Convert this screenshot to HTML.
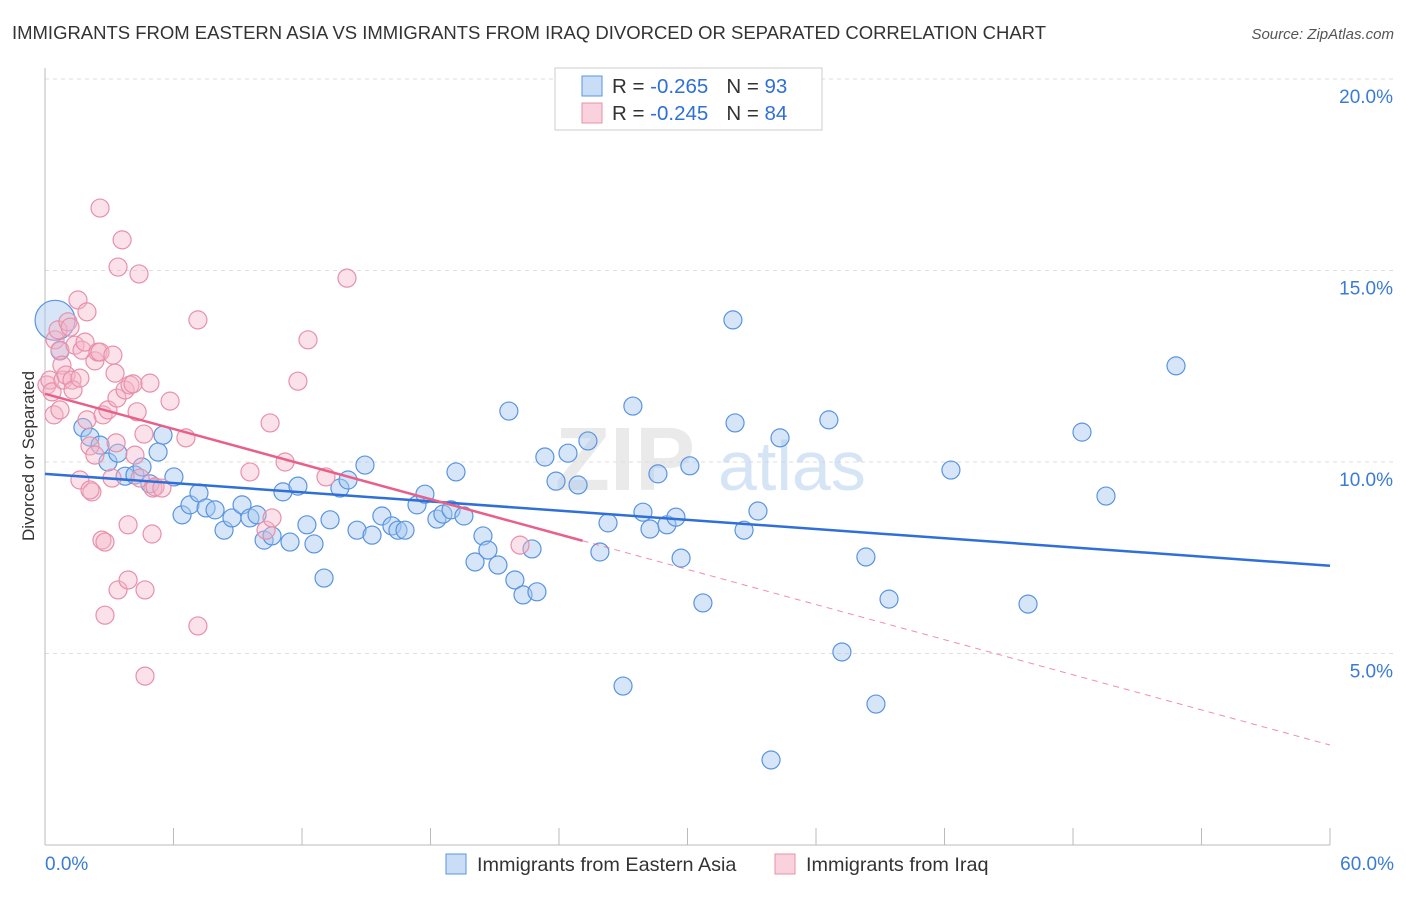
<!DOCTYPE html>
<html><head><meta charset="utf-8"><style>
body{margin:0;background:#fff;font-family:"Liberation Sans",sans-serif;}
svg text{font-family:"Liberation Sans",sans-serif;}
</style></head><body>
<svg id="chart" width="1406" height="892" xmlns="http://www.w3.org/2000/svg">
<text x="12" y="39" font-size="18.4" fill="#333" textLength="1034" lengthAdjust="spacingAndGlyphs">IMMIGRANTS FROM EASTERN ASIA VS IMMIGRANTS FROM IRAQ DIVORCED OR SEPARATED CORRELATION CHART</text>
<text x="1394" y="39" font-size="15" fill="#555" font-style="italic" text-anchor="end">Source: ZipAtlas.com</text>
<g id="grid"></g>
<g>
<text x="555" y="490" font-size="90" font-weight="bold" fill="#ddd" opacity="0.6">ZIP</text>
<text x="718" y="490" font-size="70" fill="#bcd4f0" opacity="0.6">atlas</text>
</g>
<line x1="45" y1="68" x2="45" y2="845" stroke="#bbb"/>
<line x1="45" y1="845" x2="1330" y2="845" stroke="#bbb"/>
<g id="ticks"></g>
<g id="points"></g>
<g id="lines"></g>
<text transform="translate(34,456) rotate(-90)" font-size="17" fill="#333" text-anchor="middle">Divorced or Separated</text>
<g>
<rect x="555" y="68" width="267" height="62" fill="#fff" stroke="#ccc"/>
<rect x="582" y="76" width="20" height="20" fill="rgba(165,200,240,0.6)" stroke="#5a94e0"/>
<rect x="582" y="103" width="20" height="20" fill="rgba(245,180,200,0.6)" stroke="#e890aa"/>
<text x="612" y="93" font-size="20.5" fill="#333">R = <tspan fill="#2f6fd8">-0.265</tspan><tspan dx="18">N = </tspan><tspan fill="#2f6fd8">93</tspan></text>
<text x="612" y="120" font-size="20.5" fill="#333">R = <tspan fill="#2f6fd8">-0.245</tspan><tspan dx="18">N = </tspan><tspan fill="#2f6fd8">84</tspan></text>
</g>
<g>
<rect x="446" y="854" width="20" height="20" fill="rgba(165,200,240,0.6)" stroke="#5a94e0"/>
<text x="477" y="871" font-size="19.8" fill="#333">Immigrants from Eastern Asia</text>
<rect x="775" y="854" width="20" height="20" fill="rgba(245,180,200,0.6)" stroke="#e890aa"/>
<text x="806" y="871" font-size="19.8" fill="#333">Immigrants from Iraq</text>
</g>
</svg>
<script>
const yTicks=[5,10,15,20];
const yTickLabels=["5.0%","10.0%","15.0%","20.0%"];
const xTicks=[0,6,12,18,24,30,36,42,48,54,60];
const xEndLabels=["0.0%","60.0%"];
const blueX=[0.47,0.7,1.77,2.1,2.57,2.94,3.4,3.74,4.2,4.53,4.9,5.28,5.51,6.02,6.4,6.77,7.19,7.52,7.94,8.36,8.73,9.2,9.57,9.9,10.23,10.6,11.11,11.44,11.81,12.23,12.56,13.03,13.31,13.77,14.15,14.57,14.94,15.27,15.73,16.2,16.48,16.81,17.37,17.74,18.3,18.58,18.96,19.19,19.56,20.08,20.45,20.68,21.15,21.66,21.94,22.32,22.74,22.97,23.34,23.86,24.42,24.89,25.35,25.91,26.29,26.99,27.45,27.92,28.25,28.62,29.04,29.46,29.7,30.11,30.72,32.12,32.22,32.64,33.29,33.9,34.32,36.6,37.21,38.33,38.8,39.41,42.3,45.9,48.42,49.54,52.81];
const blueY=[13.7,12.9,10.9,10.65,10.44,10.0,10.23,9.63,9.66,9.87,9.43,10.26,10.7,9.61,8.62,8.88,9.19,8.8,8.75,8.22,8.54,8.88,8.54,8.62,7.96,8.07,9.22,7.91,9.37,8.36,7.86,6.97,8.49,9.32,9.53,8.22,9.92,8.09,8.59,8.33,8.22,8.22,8.88,9.16,8.51,8.64,8.75,9.74,8.59,7.39,8.07,7.7,7.31,11.33,6.92,6.53,7.73,6.61,10.13,9.5,10.23,9.4,10.55,7.65,8.41,4.15,11.46,8.69,8.25,9.69,8.36,8.56,7.49,9.9,6.32,13.71,11.02,8.22,8.72,2.22,10.63,11.1,5.04,7.52,3.68,6.42,9.79,6.29,10.78,9.11,12.51];
const pinkX=[0.09,0.23,0.33,0.42,0.47,0.61,0.7,0.79,0.84,0.98,1.07,1.17,1.26,1.31,1.4,1.54,1.63,1.63,1.73,1.87,1.96,1.96,2.1,2.19,2.33,2.47,2.57,2.57,2.71,2.94,3.17,3.27,3.32,3.36,3.41,3.41,3.6,3.74,3.88,3.88,3.97,4.11,4.2,4.3,4.39,4.44,4.62,4.67,4.67,4.9,5.0,5.04,5.14,5.46,5.84,6.58,7.14,7.14,9.57,10.32,10.51,10.6,11.21,11.81,12.28,13.12,14.1,22.18,2.66,2.8,2.8,3.13,2.33,2.1,0.7];
const pinkY=[12.01,12.14,11.83,11.23,13.19,13.45,12.92,12.53,12.14,12.27,13.66,13.52,12.14,11.88,13.05,14.23,12.19,9.53,12.92,13.13,13.92,11.1,10.42,9.22,12.64,12.87,16.63,12.87,11.23,11.36,12.79,12.32,10.5,11.67,15.09,6.66,15.8,11.88,8.36,6.92,12.01,12.04,10.18,11.31,14.91,9.58,10.73,6.66,4.41,12.06,8.12,9.32,9.35,9.32,11.59,10.63,13.71,5.72,9.74,8.22,11.02,8.54,10.0,12.11,13.19,9.61,14.8,7.83,7.96,7.91,6.0,9.58,10.18,9.27,11.36];
const blueTrend=[9.69,7.29];
const pinkTrend=[11.78,2.61];
const pinkSolidEnd=25.1;
const sx=v=>45+v/60*1285;
const sy=v=>845-v*38.3;
const NS="http://www.w3.org/2000/svg";
function mk(tag,attrs,parent){const e=document.createElementNS(NS,tag);for(const k in attrs)e.setAttribute(k,attrs[k]);document.getElementById(parent).appendChild(e);return e;}
yTicks.forEach((t,i)=>{
 const g=mk('line',{x1:45,x2:1394,y1:sy(t),y2:sy(t),stroke:'#ddd','stroke-dasharray':'4,4'},'grid');
 
 
 const l=mk('text',{x:1393,y:sy(t)+24,'font-size':19,fill:'#3a7bd5','text-anchor':'end'},'grid');
 l.textContent=yTickLabels[i];
 
 
});
xTicks.forEach(t=>{
 const l=mk('line',{x1:sx(t),x2:sx(t),y1:828,y2:845,stroke:'#bbb'},'ticks');
 
 
});
const xl0=mk('text',{x:45,y:870,'font-size':19,fill:'#3a7bd5'},'ticks');xl0.textContent=xEndLabels[0];


const xl1=mk('text',{x:1394,y:870,'font-size':19,fill:'#3a7bd5','text-anchor':'end'},'ticks');xl1.textContent=xEndLabels[1];


blueX.forEach((x,i)=>{
 const c=mk('circle',{cx:sx(x),cy:sy(blueY[i]),r:i===0?20:9,fill:'rgba(165,200,240,0.45)',stroke:'#5a94e0','stroke-width':1.2},'points');
 
 
});
pinkX.forEach((x,i)=>{
 const c=mk('circle',{cx:sx(x),cy:sy(pinkY[i]),r:9,fill:'rgba(245,180,200,0.4)',stroke:'#e890aa','stroke-width':1.2},'points');
 
 
});
const bl=mk('line',{x1:sx(0),y1:sy(blueTrend[0]),x2:sx(60),y2:sy(blueTrend[1]),stroke:'#2f6fd8','stroke-width':2.5},'lines');


const pv=x=>pinkTrend[0]+(pinkTrend[1]-pinkTrend[0])*x/60;
const pl=mk('line',{x1:sx(0),y1:sy(pv(0)),x2:sx(pinkSolidEnd),y2:sy(pv(pinkSolidEnd)),stroke:'#e8608a','stroke-width':2.5},'lines');


const pd=mk('line',{x1:sx(pinkSolidEnd),y1:sy(pv(pinkSolidEnd)),x2:sx(60),y2:sy(pv(60)),stroke:'#e8608a','stroke-width':1,'stroke-dasharray':'6,5',opacity:0.7},'lines');


</script>
</body></html>
